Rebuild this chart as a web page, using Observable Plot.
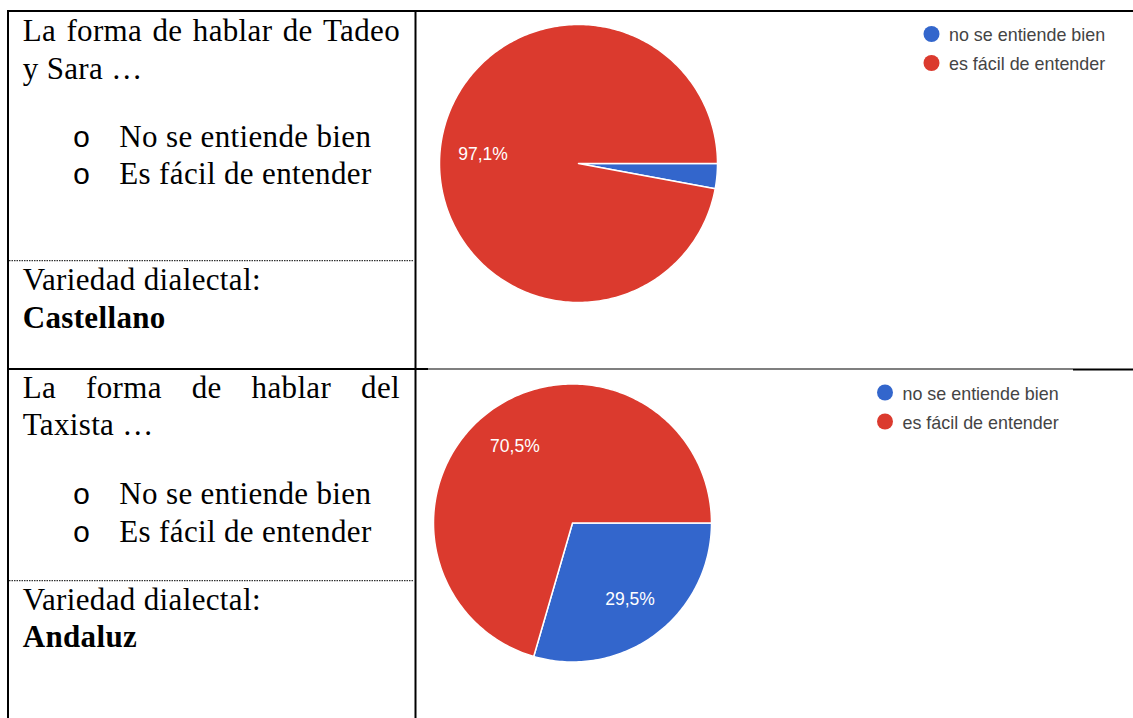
<!DOCTYPE html>
<html><head><meta charset="utf-8">
<script src="https://cdn.jsdelivr.net/npm/d3@7"></script>
<script src="https://cdn.jsdelivr.net/npm/@observablehq/plot@0.6"></script>
<style>
html,body{margin:0;padding:0;background:#fff;}
#page{position:relative;width:1133px;height:718px;overflow:hidden;background:#fff;}
#page > svg{position:absolute;}
</style></head><body><div id="page"></div>
<script>
// ---- data ----
const categories = ["no se entiende bien", "es fácil de entender"];
const colors = ["#3366cc", "#db3a2e"];
const castellanoValues = [2.9, 97.1];
const andaluzValues = [29.5, 70.5];
const rowTitles = [["La forma de hablar de Tadeo", "y Sara …"], ["La forma de hablar del", "Taxista …"]];
const answerOptions = ["No se entiende bien", "Es fácil de entender"];
const varietyLabel = "Variedad dialectal:";
const varieties = ["Castellano", "Andaluz"];

const page = document.getElementById("page");
const W = 1133, H = 718;
const serif = "'Liberation Serif', 'Times New Roman', serif";
const sans = "'Liberation Sans', Arial, Helvetica, sans-serif";

// ---- table / text overlay ----
const svg = d3.select(page).append("svg").attr("width", W).attr("height", H).style("left", 0).style("top", 0);
const rects = [
  [7, 10, W - 7, 2],          // top
  [7, 10, 2, H - 10],         // left
  [414.5, 10, 2, H - 10],     // middle
  [7, 368, 421, 2],           // row separator (left)
  [428, 368.5, 645, 1],       // row separator (thin)
  [1073, 368.5, 60, 2]        // row separator (right)
];
svg.selectAll("rect.b").data(rects).join("rect").attr("class", "b")
  .attr("x", d => d[0]).attr("y", d => d[1]).attr("width", d => d[2]).attr("height", d => d[3]).attr("fill", "#000");
[260.7, 580.7].forEach(y => svg.append("line").attr("x1", 9).attr("x2", 414).attr("y1", y).attr("y2", y)
  .attr("stroke", "#000").attr("stroke-width", 1).attr("stroke-dasharray", "1.5 1"));

function txt(s, x, y, opts = {}) {
  return svg.append("text").attr("x", x).attr("y", y).text(s)
    .attr("font-family", opts.family || serif).attr("font-size", opts.size || 31)
    .attr("font-weight", opts.weight || "normal").attr("fill", opts.fill || "#000")
    .style("letter-spacing", (opts.ls != null ? opts.ls : 0.35) + "px");
}
function justified(s, x0, x1, y) {
  const words = s.split(" ");
  const widths = words.map(w => { const t = txt(w, 0, -100); const l = t.node().getComputedTextLength(); t.remove(); return l; });
  const gap = (x1 - x0 - d3.sum(widths)) / (words.length - 1);
  let x = x0;
  words.forEach((w, i) => { txt(w, x, y); x += widths[i] + gap; });
}
const rowBase = [
  {l1: 40.7, l2: 79, o1: 146.7, o2: 184.3, v1: 290, v2: 327.7},
  {l1: 398.3, l2: 435, o1: 504, o2: 541.7, v1: 610, v2: 647.3}
];
rowBase.forEach((b, i) => {
  justified(rowTitles[i][0], 22.7, 400, b.l1);
  txt(rowTitles[i][1], 22.7, b.l2);
  [b.o1, b.o2].forEach((y, k) => {
    txt("o", 72.5, y, {family: "'Courier New', 'Liberation Mono', monospace", size: 30, ls: 0});
    txt(answerOptions[k], 119.3, y);
  });
  txt(varietyLabel, 22.7, b.v1);
  txt(varieties[i], 22.7, b.v2, {weight: "bold"});
});

// ---- legends ----
const legends = [{x: 931.5, y: 34}, {x: 885, y: 392.5}];
legends.forEach(L => {
  categories.forEach((c, k) => {
    const y = L.y + k * 29;
    svg.append("circle").attr("cx", L.x).attr("cy", y).attr("r", 8).attr("fill", colors[k]);
    txt(c, L.x + 17.5, y + 7, {family: sans, size: 17.9, fill: "#444", ls: 0});
  });
});

// ---- pies with Plot ----
const fmt = v => d3.format(".1f")(v).replace(".", ",") + "%";
function pie(values, {left, top, width, height, cx, cy, r}) {
  const arcs = d3.pie().sort(null).startAngle(Math.PI / 2).endAngle(Math.PI / 2 + 2 * Math.PI)(values);
  const pts = [];
  const labels = [];
  arcs.forEach((a, i) => {
    const n = Math.max(2, Math.ceil((a.endAngle - a.startAngle) / (Math.PI / 180)));
    pts.push({cat: categories[i], x: 0, y: 0});
    for (let k = 0; k <= n; k++) {
      const t = a.startAngle + (a.endAngle - a.startAngle) * k / n;
      pts.push({cat: categories[i], x: Math.sin(t), y: Math.cos(t)});
    }
    if (values[i] >= 5) {
      const m = (a.startAngle + a.endAngle) / 2;
      labels.push({x: 0.69 * Math.sin(m), y: 0.69 * Math.cos(m), text: fmt(values[i])});
    }
  });
  const chart = Plot.plot({
    width, height, margin: 0,
    style: {background: "transparent", overflow: "visible"},
    x: {domain: [-1, 1], range: [cx - r, cx + r], axis: null},
    y: {domain: [-1, 1], range: [cy + r, cy - r], axis: null},
    color: {domain: categories, range: colors},
    marks: [
      Plot.line(pts, {x: "x", y: "y", z: "cat", fill: "cat", stroke: "white", strokeWidth: 1.5, curve: "linear-closed"}),
      Plot.text(labels, {x: "x", y: "y", text: "text", fill: "white", fontSize: 17.5, fontFamily: sans})
    ]
  });
  chart.style.position = "absolute";
  chart.style.left = left + "px";
  chart.style.top = top + "px";
  page.appendChild(chart);
}
pie(castellanoValues, {left: 417, top: 12, width: 716, height: 356, cx: 161, cy: 151, r: 139});
pie(andaluzValues, {left: 417, top: 370, width: 716, height: 348, cx: 155, cy: 152.5, r: 139});
</script></body></html>
